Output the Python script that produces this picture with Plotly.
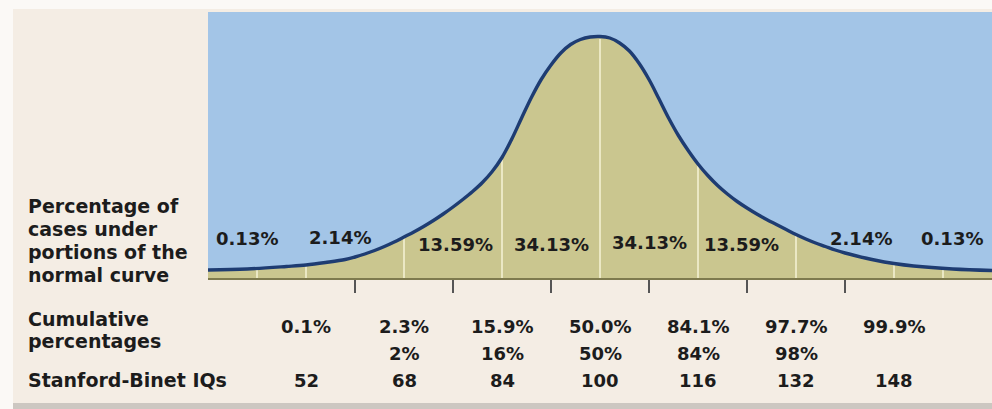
import plotly.graph_objects as go

# ---------------- data ----------------
# curve: position in standard deviations vs. relative curve height (px above baseline)
curve_sd = [-4.0, -3.6, -3.2, -3.0, -2.8, -2.6, -2.5, -2.4, -2.3, -2.2, -2.1, -2.0,
            -1.9, -1.8, -1.7, -1.6, -1.5, -1.4, -1.3, -1.2, -1.1, -1.0, -0.9, -0.8,
            -0.7, -0.6, -0.5, -0.4, -0.3, -0.2, -0.1, 0.0, 0.1, 0.2, 0.3, 0.4, 0.5,
            0.6, 0.7, 0.8, 0.9, 1.0, 1.1, 1.2, 1.3, 1.4, 1.5, 1.6, 1.7, 1.8, 1.9,
            2.0, 2.1, 2.2, 2.3, 2.4, 2.5, 2.6, 2.8, 3.0, 3.2, 3.6, 4.0]
curve_h = [8, 9, 11.5, 13, 15.5, 18.5, 21, 24, 27.5, 31.5, 36, 41,
           46, 51.5, 57.5, 64, 71, 78.5, 86.5, 95.5, 106.5, 120.5, 139, 160,
           180.5, 198.5, 213, 225, 233.5, 238.5, 241, 241.5, 240, 235, 227, 214.5, 198.5,
           179.5, 160, 142.5, 127.5, 114, 102.5, 92.5, 84, 76.5, 70, 64, 58.5, 53.5, 48.5,
           43.5, 39, 35, 31.5, 28, 25, 22.5, 18, 14.5, 12, 9, 7.5]

divider_sd = [-3.5, -3, -2, -1, 0, 1, 2, 3, 3.5]
divider_h = [9, 12, 40, 119, 239, 112, 42, 13, 8]

pct_labels = ["0.13%", "2.14%", "13.59%", "34.13%", "34.13%", "13.59%", "2.14%", "0.13%"]
pct_sd = [-3.6, -2.65, -1.47, -0.5, 0.5, 1.44, 2.66, 3.59]
pct_y = [40, 41, 34, 34, 36, 34, 40, 40]

iq_values = [52, 68, 84, 100, 116, 132, 148]
cum_pct = ["0.1%", "2.3%", "15.9%", "50.0%", "84.1%", "97.7%", "99.9%"]
cum_round = ["", "2%", "16%", "50%", "84%", "98%", ""]
tick_sd = [-2.5, -1.5, -0.5, 0.5, 1.5, 2.5]
IQ_MEAN, IQ_SD = 100, 16

left_block = ["Percentage of", "cases under", "portions of the", "normal curve"]

# ---------------- layout helpers ----------------
W, H = 992, 409
L, R, T, B = 208, 0, 12, 131
PW, PH = W - L - R, H - T - B


def px_x(px):
    return (px - L) / PW


def px_y(py):
    return (H - B - py) / PH


BLUE = "#A3C5E7"
OLIVE = "#CAC68F"
BEIGE = "#F4EDE4"
NAVY = "#1E3C72"
TXT = "#1C1C1C"
FONT = "DejaVu Sans"

fig = go.Figure()

# olive area under the curve
fig.add_trace(go.Scatter(x=curve_sd, y=curve_h, mode="lines",
                         line=dict(width=0, shape="spline", color=OLIVE),
                         fill="tozeroy", fillcolor=OLIVE, hoverinfo="skip",
                         showlegend=False))

# white dividers at the standard deviations
dx, dy = [], []
for xv, hv in zip(divider_sd, divider_h):
    dx += [xv, xv, None]
    dy += [0, hv, None]
fig.add_trace(go.Scatter(x=dx, y=dy, mode="lines",
                         line=dict(color="#F6F3D6", width=1.5),
                         hoverinfo="skip", showlegend=False))

# the curve line
fig.add_trace(go.Scatter(x=curve_sd, y=curve_h, mode="lines",
                         line=dict(width=3.4, shape="spline", color=NAVY),
                         hoverinfo="skip", showlegend=False))

ann = []
# percentages inside the panel
for lab, sd, yv in zip(pct_labels, pct_sd, pct_y):
    ann.append(dict(x=sd, y=yv, xref="x", yref="y", text="<b>%s</b>" % lab,
                    showarrow=False, xanchor="center", yanchor="middle",
                    font=dict(family=FONT, size=18, color=TXT)))

# left labels
left_y = [206, 229, 252, 275]
for txt, py in zip(left_block, left_y):
    ann.append(dict(x=px_x(26), y=px_y(py), xref="paper", yref="paper",
                    text="<b>%s</b>" % txt, showarrow=False, xanchor="left",
                    yanchor="middle", font=dict(family=FONT, size=19, color=TXT)))
for txt, py in [("Cumulative", 319), ("percentages", 341), ("Stanford-Binet IQs", 380)]:
    ann.append(dict(x=px_x(26), y=px_y(py), xref="paper", yref="paper",
                    text="<b>%s</b>" % txt, showarrow=False, xanchor="left",
                    yanchor="middle", font=dict(family=FONT, size=19, color=TXT)))

# bottom rows
for iq, c1, c2 in zip(iq_values, cum_pct, cum_round):
    sd = (iq - IQ_MEAN) / IQ_SD
    for txt, py in [(c1, 326), (c2, 354), (str(iq), 380)]:
        if not txt:
            continue
        ann.append(dict(x=sd, y=px_y(py), xref="x", yref="paper",
                        text="<b>%s</b>" % txt, showarrow=False, xanchor="center",
                        yanchor="middle", font=dict(family=FONT, size=18, color=TXT)))

shapes = [
    dict(type="rect", xref="paper", yref="paper", x0=px_x(0), x1=px_x(13),
         y0=px_y(H), y1=px_y(0), fillcolor="#FBF9F6", line=dict(width=0)),
    dict(type="rect", xref="paper", yref="paper", x0=px_x(0), x1=px_x(W),
         y0=px_y(9), y1=px_y(0), fillcolor="#FBF9F6", line=dict(width=0)),
    dict(type="rect", xref="paper", yref="paper", x0=px_x(13), x1=px_x(W),
         y0=px_y(H), y1=px_y(403), fillcolor="#CCC7C1", line=dict(width=0)),
]

fig.update_layout(
    width=W, height=H,
    margin=dict(l=L, r=R, t=T, b=B, pad=0),
    paper_bgcolor=BEIGE, plot_bgcolor=BLUE,
    showlegend=False,
    annotations=ann, shapes=shapes,
    xaxis=dict(range=[-4, 4], showgrid=False, zeroline=False,
               showline=True, linecolor="#7E7A4E", linewidth=2,
               ticks="outside", ticklen=13, tickwidth=1.5, tickcolor="#555555",
               tickvals=tick_sd, showticklabels=False, fixedrange=True),
    yaxis=dict(range=[0, PH], showgrid=False, zeroline=False, showline=False,
               showticklabels=False, ticks="", fixedrange=True),
)

fig.write_html("out.html", config={"displayModeBar": False},
               post_script="document.body.style.margin='0px';")
